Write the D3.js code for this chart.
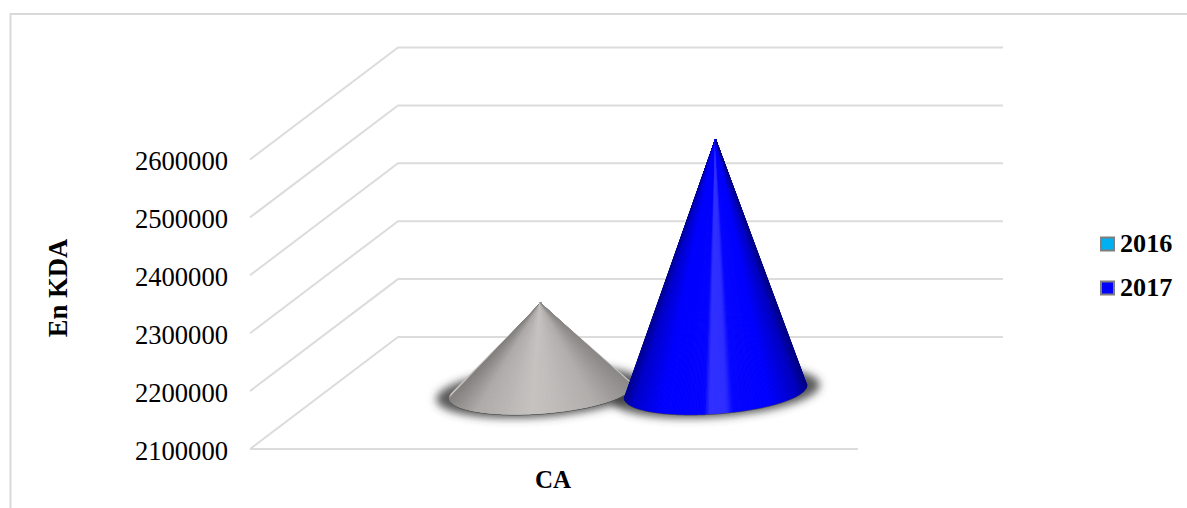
<!DOCTYPE html>
<html>
<head>
<meta charset="utf-8">
<script src="https://cdn.jsdelivr.net/npm/d3@7"></script>
<style>
html, body { margin: 0; padding: 0; background: #fff; }
svg { display: block; }
text { font-family: "Liberation Serif", serif; fill: #000; }
</style>
</head>
<body>
<svg width="1187" height="508"></svg>
<script>
var categories = ["CA"];
var years = ["2016", "2017"];
var values = [2252000, 2535000];
var yTicks = [2100000, 2200000, 2300000, 2400000, 2500000, 2600000];
var legendColors = ["#00b0f0", "#0000ff"];
var axisTitle = "En KDA";

var svg = d3.select("svg");

var depthX = 148, depthY = 112, backRight = 1003;

var y = d3.scaleLinear().domain([2100000, 2600000]).range([449, 159.5]);
var x0 = d3.scaleBand().domain(categories).range([250, 858]);
var x1 = d3.scaleBand().domain(years).range([0, x0.bandwidth()]).paddingOuter(0.737);

// frame, only top and left are visible in the picture
svg.append("path")
    .attr("d", "M10.5,508V14H1187")
    .attr("fill", "none")
    .attr("stroke", "#d9d9d9")
    .attr("stroke-width", 2);

// gridlines on left wall and back wall
var grid = svg.append("g").attr("fill", "none").attr("stroke", "#dcdcdc").attr("stroke-width", 2);
grid.selectAll("path")
    .data(yTicks)
    .enter().append("path")
    .attr("d", function(d) {
        return d3.line()([
            [x0.range()[0], y(d)],
            [x0.range()[0] + depthX, y(d) - depthY],
            [backRight, y(d) - depthY]
        ]);
    });
// front floor edge
grid.append("line")
    .attr("x1", x0.range()[0]).attr("x2", x0.range()[1])
    .attr("y1", y(yTicks[0])).attr("y2", y(yTicks[0]));

// y axis labels
var yAxis = d3.axisLeft(y).tickValues(yTicks).tickSize(0).tickPadding(22).tickFormat(d3.format("d"));
var yG = svg.append("g").attr("transform", "translate(250,1.5)").call(yAxis);
yG.select(".domain").remove();
yG.selectAll("text").style("font-size", "26.6px").style("font-family", '"Liberation Serif", serif');

// category axis
var xAxis = d3.axisBottom(x0).tickSize(0).tickPadding(21);
var xG = svg.append("g").attr("transform", "translate(-1," + y(yTicks[0]) + ")").call(xAxis);
xG.select(".domain").remove();
xG.selectAll("text")
    .style("font-size", "25px").style("font-weight", "bold")
    .style("font-family", '"Liberation Serif", serif');

svg.append("text")
    .attr("transform", "translate(67,288) rotate(-90)")
    .attr("text-anchor", "middle")
    .style("font-size", "26.6px").style("font-weight", "bold")
    .text(axisTitle);

// blur for the shadow below the cones
var defs = svg.append("defs");
defs.append("filter").attr("id", "soft")
    .attr("x", "-30%").attr("y", "-60%").attr("width", "160%").attr("height", "220%")
    .append("feGaussianBlur").attr("stdDeviation", 4.5);

var rx = 91.5, ry = 22, tilt = -4.2 * Math.PI / 180;

var shadeBlue = d3.scaleLinear()
    .domain([0, 0.05, 0.2, 0.44, 0.47, 0.56, 0.6, 0.8, 0.95, 1])
    .range(["#000090", "#0000c8", "#0000ff", "#0404ff", "#3232ff", "#2e2eff", "#0606ff", "#0000ff", "#0000c0", "#000088"]);
var shadeGray = d3.scaleLinear()
    .domain([0, 0.15, 0.45, 0.55, 0.8, 1])
    .range(["#858381", "#aeaba9", "#c6c2c0", "#c2bebc", "#b0adab", "#8c8a88"]);
var shades = [shadeGray, shadeBlue];

function ellipsePoints(cx, cy, a, b) {
    return d3.range(0, 360, 1).map(function(deg) {
        var t = deg * Math.PI / 180;
        var px = a * Math.cos(t), py = b * Math.sin(t);
        return [cx + px * Math.cos(tilt) - py * Math.sin(tilt),
                cy + px * Math.sin(tilt) + py * Math.cos(tilt)];
    });
}

// shadows first, the cones sit on them
var cx = function(i) { return x0("CA") + x1(years[i]) + x1.bandwidth() / 2 + depthX / 2; };
var baseY = y(2100000) - depthY / 2 - 1.5;

svg.append("g").selectAll("path")
    .data(values)
    .enter().append("path")
    .attr("d", function(d, i) {
        return d3.line().curve(d3.curveLinearClosed)(ellipsePoints(cx(i), baseY + 0.5, rx + 13, ry + 3));
    })
    .attr("fill", "#3c3c3c")
    .attr("fill-opacity", 0.85)
    .attr("filter", "url(#soft)");

// each cone is a fan of thin slices from the apex, shade depends on x
values.forEach(function(v, i) {
    var apex = [cx(i), y(v) - depthY / 2 - 2];
    var rim = ellipsePoints(cx(i), baseY, rx, ry);
    var hull = d3.polygonHull(rim.concat([apex]));
    var g = svg.append("g");

    // dark rim line under the base
    g.append("path")
        .attr("d", d3.line().curve(d3.curveLinearClosed)(ellipsePoints(cx(i), baseY + 1, rx, ry)))
        .attr("fill", "#4a4a4a");

    var front = rim.filter(function(p, k) { return k < 180; }).concat([rim[180]])
        .sort(function(a, b) { return a[0] - b[0]; });
    var xr = d3.extent(rim, function(p) { return p[0]; });

    g.append("path")
        .attr("d", d3.line().curve(d3.curveLinearClosed)(hull))
        .attr("fill", shades[i](0.5));

    d3.pairs(front).forEach(function(pair) {
        var c = shades[i](((pair[0][0] + pair[1][0]) / 2 - xr[0]) / (xr[1] - xr[0]));
        g.append("path")
            .attr("d", d3.line().curve(d3.curveLinearClosed)([apex, pair[0], pair[1]]))
            .attr("fill", c)
            .attr("stroke", c)
            .attr("stroke-width", 0.6);
    });
});

// legend
var legendY = d3.scalePoint().domain(years).range([244, 288]);
var legend = svg.append("g").selectAll("g")
    .data(years)
    .enter().append("g")
    .attr("transform", function(d) { return "translate(1100," + legendY(d) + ")"; });
legend.append("rect")
    .attr("x", 1).attr("y", -6.5)
    .attr("width", 13).attr("height", 13)
    .attr("fill", function(d, i) { return legendColors[i]; })
    .attr("stroke", "#7f7f7f")
    .attr("stroke-width", 2);
legend.append("text")
    .attr("x", 20).attr("y", 8)
    .style("font-size", "26.2px").style("font-weight", "bold")
    .text(function(d) { return d; });
</script>
</body>
</html>
